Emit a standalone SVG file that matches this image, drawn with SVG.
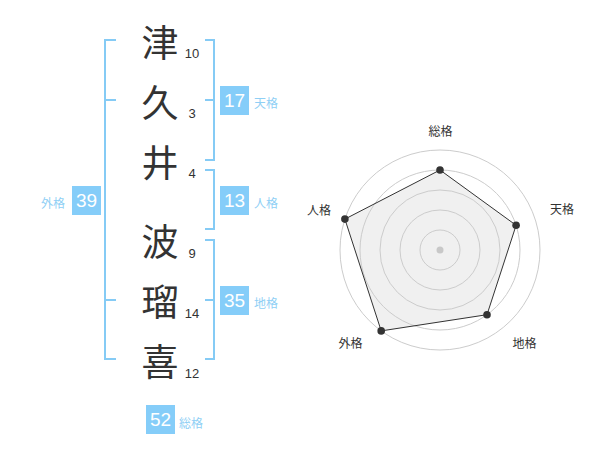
<svg xmlns="http://www.w3.org/2000/svg" width="600" height="470" viewBox="0 0 600 470">
<style>
.k{font-family:"Noto Sans CJK JP","Noto Sans CJK SC",sans-serif;font-size:37px;fill:#333;text-anchor:middle;dominant-baseline:central}
.n{font-family:"Liberation Sans",Arial,sans-serif;font-size:13px;fill:#333;text-anchor:middle;dominant-baseline:central}
.br{fill:none;stroke:#85cbf5;stroke-width:2}
.box{fill:#85cdf9}
.bt{font-family:"Liberation Sans",Arial,sans-serif;font-size:19px;fill:#fff;text-anchor:middle;dominant-baseline:central}
.bl{font-family:"Noto Sans CJK JP",sans-serif;font-size:12px;fill:#8fcff5;dominant-baseline:central}
.ring{fill:none;stroke:#cccccc;stroke-width:1}
.rl{font-family:"Noto Sans CJK JP",sans-serif;font-size:12px;fill:#333;text-anchor:middle;dominant-baseline:central}
</style>
<g id="chars">
<text class="k" x="160" y="41">津</text>
<text class="k" x="160" y="101">久</text>
<text class="k" x="160" y="161">井</text>
<text class="k" x="160" y="240">波</text>
<text class="k" x="160" y="300">瑠</text>
<text class="k" x="160" y="360">喜</text>
<text class="n" x="192" y="53">10</text>
<text class="n" x="192" y="113">3</text>
<text class="n" x="192" y="173">4</text>
<text class="n" x="192" y="253">9</text>
<text class="n" x="192" y="313">14</text>
<text class="n" x="192" y="373">12</text>
</g>
<g id="connectors">
<path class="br" d="M116,40 H105 V359 H116 M105,100 H116 M105,300 H116"/>
<path class="br" d="M205,40 H214 V160 H205 M205,100 H214"/>
<path class="br" d="M205,170 H214 V229 H205"/>
<path class="br" d="M205,240 H214 V359 H205 M205,300 H214"/>
</g>
<g id="tenkaku">
<rect class="box" x="220" y="86" width="29" height="29"/>
<text class="bt" x="234.5" y="100.5">17</text>
<text class="bl" x="254" y="102">天格</text>
</g>
<g id="jinkaku">
<rect class="box" x="220" y="186" width="29" height="29"/>
<text class="bt" x="234.5" y="200.5">13</text>
<text class="bl" x="254" y="202">人格</text>
</g>
<g id="chikaku">
<rect class="box" x="220" y="286" width="29" height="29"/>
<text class="bt" x="234.5" y="300.5">35</text>
<text class="bl" x="254" y="302">地格</text>
</g>
<g id="gaikaku">
<rect class="box" x="72" y="186" width="29" height="29"/>
<text class="bt" x="86.5" y="200.5">39</text>
<text class="bl" x="41" y="202">外格</text>
</g>
<g id="soukaku">
<rect class="box" x="146" y="405" width="29" height="29"/>
<text class="bt" x="160.5" y="419.5">52</text>
<text class="bl" x="179" y="422">総格</text>
</g>
<g id="radar">
<polygon points="440,170 516.1,225.3 487,314.7 381.2,330.9 344.9,219.1" fill="#f0f0f0" stroke="none"/>
<circle class="ring" cx="440" cy="250" r="20"/>
<circle class="ring" cx="440" cy="250" r="40"/>
<circle class="ring" cx="440" cy="250" r="60"/>
<circle class="ring" cx="440" cy="250" r="80"/>
<circle class="ring" cx="440" cy="250" r="100"/>
<circle cx="440" cy="250" r="3.5" fill="#c8c8c8"/>
<polygon points="440,170 516.1,225.3 487,314.7 381.2,330.9 344.9,219.1" fill="none" stroke="#333" stroke-width="1"/>
<g fill="#333">
<circle cx="440" cy="170" r="3.8"/>
<circle cx="516.1" cy="225.3" r="3.8"/>
<circle cx="487" cy="314.7" r="3.8"/>
<circle cx="381.2" cy="330.9" r="3.8"/>
<circle cx="344.9" cy="219.1" r="3.8"/>
</g>
<text class="rl" x="440.5" y="130">総格</text>
<text class="rl" x="562" y="208">天格</text>
<text class="rl" x="524.5" y="342">地格</text>
<text class="rl" x="350.5" y="342">外格</text>
<text class="rl" x="319" y="209">人格</text>
</g>
</svg>
